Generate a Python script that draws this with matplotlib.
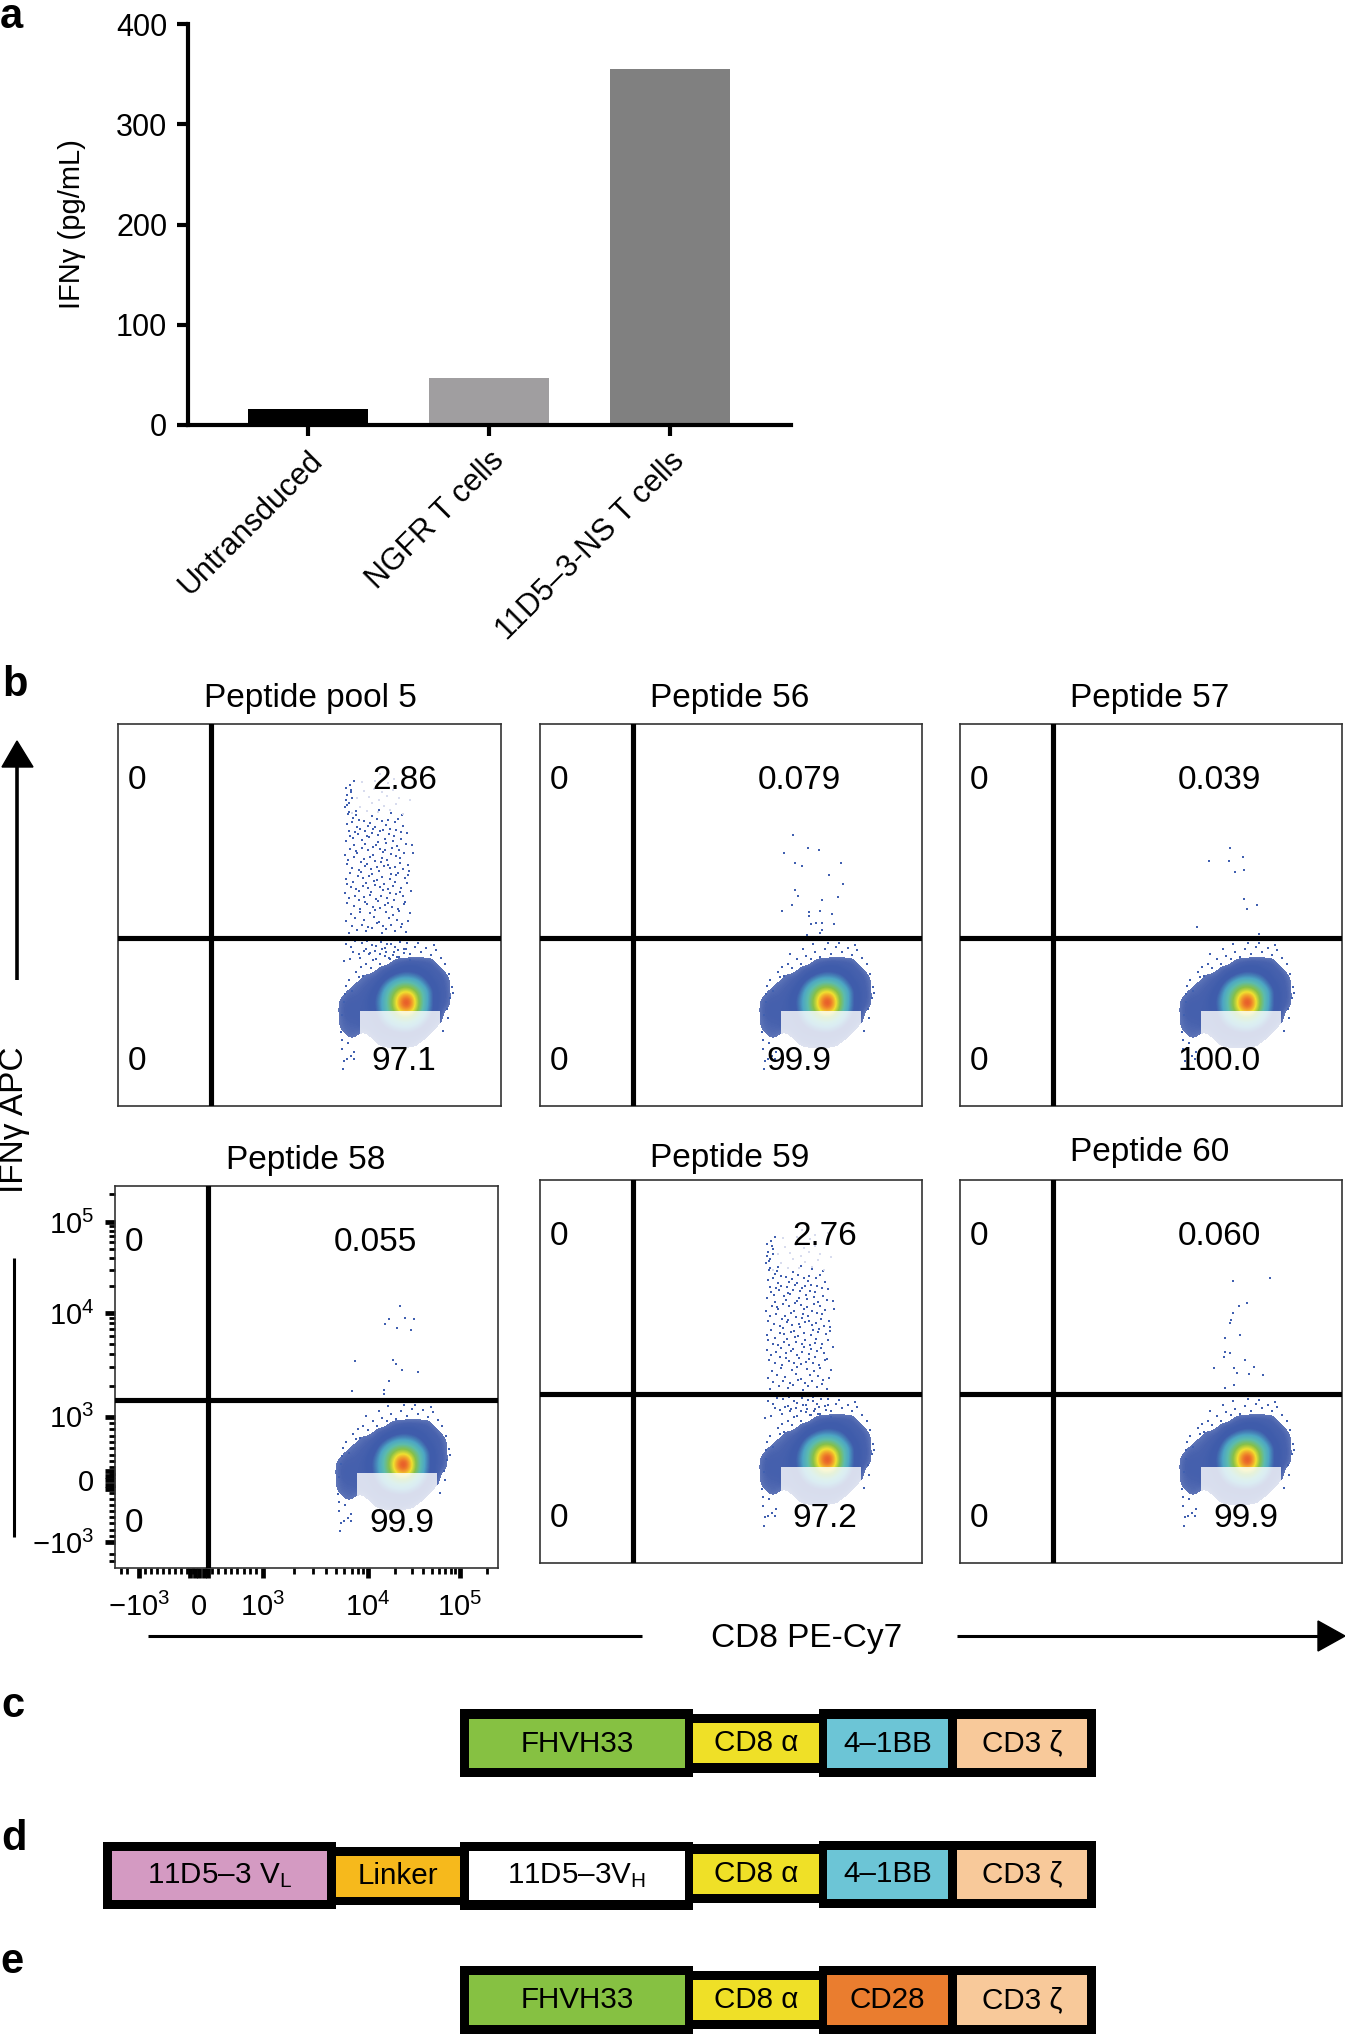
import numpy as np
import matplotlib
matplotlib.use('Agg')
import matplotlib.pyplot as plt
from matplotlib.colors import LinearSegmentedColormap
from matplotlib.patches import Rectangle, Polygon

plt.rcParams['font.family'] = ['Liberation Sans', 'DejaVu Sans']
plt.rcParams['mathtext.fontset'] = 'custom'
plt.rcParams['mathtext.rm'] = 'Liberation Sans'
plt.rcParams['mathtext.it'] = 'Liberation Sans'
plt.rcParams['mathtext.bf'] = 'Liberation Sans:bold'
plt.rcParams['mathtext.default'] = 'regular'

W, H = 1345, 2034

# panel a
BAR_NAMES = ['Untransduced', 'NGFR T cells', '11D5\u20133-NS T cells']
BAR_VALUES = [16, 47, 355]
BAR_COLORS = ['#000000', '#a09ea0', '#808080']

# panel b, percentages shown in the quadrants
TITLES = ['Peptide pool 5', 'Peptide 56', 'Peptide 57', 'Peptide 58', 'Peptide 59', 'Peptide 60']
UPPER_RIGHT = ['2.86', '0.079', '0.039', '0.055', '2.76', '0.060']
LOWER_RIGHT = ['97.1', '99.9', '100.0', '99.9', '97.2', '99.9']

# cell density (colour level), x 56..90, y 42..12, in percent of the plot
DENS_X = [56, 58, 60, 62, 64, 66, 68, 70, 72, 74, 76, 78, 80, 82, 84, 86, 88, 90]
DENS_Y = [42, 40, 38, 36, 34, 32, 30, 28, 26, 24, 22, 20, 18, 16, 14, 12]
DENSITY = [
    [0, 0, 0, 0, 0, 0, 0, 0, 0, 0, 0, 0, 0, 0, 0, 0, 0, 0],
    [0, 0, 0, 0, 0, 0, 0, 0, 0, 0, 0, 0, 0, 0, 0, 0, 0, 0],
    [0, 0, 0, 0, 0, 0, 0, 0, .7, .8, .9, .9, .9, .8, 0, 0, 0, 0],
    [0, 0, 0, 0, 0, 0, .7, .9, 1, 1.2, 1.3, 1.2, 1, 1, .8, 0, 0, 0],
    [0, 0, 0, 0, .7, .8, .9, 1.2, 1.6, 2, 2, 1.8, 1.4, 1, 1, .7, 0, 0],
    [0, 0, 0, .7, .8, .9, 1.2, 2, 3, 3.5, 3.5, 3, 2, 1.2, 1, .8, 0, 0],
    [0, 0, .8, .8, .9, 1.1, 1.6, 3, 4, 5, 5, 4, 3, 1.6, 1, .9, 0, 0],
    [0, .7, .9, .9, 1, 1.2, 2, 3.2, 4.6, 6.5, 6.8, 4.6, 3, 1.6, 1, .9, 0, 0],
    [0, .8, 1, 1, 1, 1.2, 2, 3.2, 4.6, 6.5, 6.8, 4.6, 3, 1.6, 1, .8, 0, 0],
    [0, .8, 1, 1, 1, 1.1, 1.8, 3, 4, 5, 5, 4, 2.6, 1.4, 1, 0, 0, 0],
    [0, .7, .9, .9, 1, 1, 1.4, 2.2, 3, 3.4, 3.4, 2.8, 1.8, 1.1, .8, 0, 0, 0],
    [0, .7, .8, .8, .9, 1, 1.1, 1.4, 1.8, 2, 2, 1.6, 1.2, .9, 0, 0, 0, 0],
    [0, 0, .7, .7, 0, .7, 1, 1, 1, 1.1, 1.1, 1, .9, 0, 0, 0, 0, 0],
    [0, 0, 0, 0, 0, 0, .7, .9, 1, 1, .9, .7, 0, 0, 0, 0, 0, 0],
    [0, 0, 0, 0, 0, 0, 0, 0, 0, 0, 0, 0, 0, 0, 0, 0, 0, 0],
    [0, 0, 0, 0, 0, 0, 0, 0, 0, 0, 0, 0, 0, 0, 0, 0, 0, 0],
]

# single cells above the gate
SPARSE_X = {
    1: [66.2, 63.9, 70.2, 73.0, 66.7, 68.6, 78.9, 75.7, 79.2, 66.7, 67.5, 73.7, 78.0, 65.9, 63.4, 70.5, 70.5, 73.3, 76.4, 70.9, 72.3, 73.7, 76.9, 73.7, 73.3, 69.8],
    2: [70.8, 74.2, 65.2, 70.4, 72.0, 74.3, 74.3, 77.8, 75.1, 62.1, 78.3],
    3: [74.4, 71.6, 70.5, 75.6, 78.0, 73.6, 77.2, 62.7, 72.5, 73.3, 74.9, 79.1, 71.6, 61.9, 70.2, 70.2],
    5: [71.4, 81.2, 75.0, 73.0, 71.4, 70.9, 70.6, 69.4, 73.4, 69.4, 70.6, 69.0, 74.5, 66.6, 71.7, 76.9, 72.5, 75.7, 79.2, 71.7, 69.4],
}
SPARSE_Y = {
    1: [71.0, 66.3, 67.5, 67.1, 63.6, 62.8, 63.6, 60.5, 58.1, 56.5, 55.0, 53.8, 54.6, 52.6, 51.0, 50.7, 49.8, 51.0, 50.3, 47.6, 47.9, 47.9, 47.6, 46.0, 45.2, 44.8],
    2: [67.5, 65.3, 64.1, 64.1, 61.3, 61.8, 54.2, 52.6, 51.6, 46.9, 44.9],
    3: [68.6, 65.2, 63.9, 65.5, 65.2, 62.8, 62.4, 54.2, 54.5, 53.4, 51.8, 51.4, 49.0, 46.3, 46.7, 45.5],
    5: [73.6, 74.3, 67.8, 67.0, 65.4, 63.5, 62.7, 58.8, 59.6, 55.2, 54.9, 53.8, 52.9, 51.0, 51.0, 51.3, 49.7, 49.4, 49.0, 46.6, 45.8],
}

# responding cells in pool 5 and peptide 59
TAIL_X = [
    60.2, 62.5, 64.8, 66.3, 68.9, 70.1, 72.4, 73.8, 75.2, 61.1, 63.7, 65.4, 67.6, 69.3, 71.2, 74.1,
    59.6, 62.0, 64.1, 66.9, 68.2, 70.8, 72.9, 75.7, 60.8, 63.1, 65.9, 67.2, 69.9, 71.7, 73.3, 76.3,
    61.5, 63.3, 65.1, 66.6, 68.4, 69.7, 71.5, 73.1, 74.7, 59.9, 62.8, 64.5, 67.9, 70.4, 72.1, 75.0,
    60.4, 61.9, 64.3, 65.7, 67.3, 68.7, 70.3, 72.6, 74.4, 59.3, 63.0, 66.1, 69.1, 71.0, 73.5, 76.6,
    60.9, 62.2, 63.9, 65.3, 67.0, 68.5, 70.6, 71.9, 73.9, 59.8, 61.4, 64.7, 66.8, 69.5, 72.3, 75.4,
    59.5, 62.7, 64.0, 65.6, 67.5, 69.0, 70.9, 72.7, 74.9, 60.6, 63.5, 66.4, 68.1, 71.4, 73.0, 76.0,
    61.2, 62.9, 64.6, 66.0, 67.7, 69.4, 71.1, 72.2, 74.3, 59.7, 63.4, 65.0, 68.6, 70.5, 73.6, 75.6,
    60.1, 61.7, 64.2, 65.8, 67.1, 68.8, 70.2, 72.5, 73.7, 59.2, 62.4, 66.5, 69.2, 71.3, 74.6, 77.0,
    60.7, 62.1, 63.6, 65.2, 66.7, 68.3, 69.8, 71.6, 73.4, 61.6, 64.4, 67.4, 70.0, 72.8, 75.1, 76.8,
    59.4, 61.3, 63.8, 65.5, 67.8, 69.6, 71.8, 74.0, 60.5, 62.6, 64.9, 66.2, 68.0, 70.7, 72.0, 75.5,
    60.3, 61.8, 63.2, 64.6, 66.7, 68.5, 69.3, 71.0, 72.6, 73.8, 62.3, 65.3, 67.2, 70.1, 74.5, 59.8,
    61.0, 63.0, 64.3, 65.9, 67.6, 69.0, 70.4, 72.3, 73.2, 60.0, 62.2, 66.3, 68.2, 71.2, 74.2, 75.8,
    59.6, 62.0, 63.7, 65.1, 66.4, 68.7, 70.2, 71.5, 73.6, 60.9, 64.8, 67.3, 69.7, 72.4, 75.3, 58.9,
    61.4, 62.8, 64.1, 65.7, 67.0, 68.4, 69.9, 71.7, 73.0, 74.8, 60.6, 63.3, 66.6, 70.8, 72.9, 76.2,
    59.2, 60.3, 61.1, 59.7, 60.9, 59.4, 60.6, 61.6, 59.9, 60.2, 62.1, 59.5, 60.8, 61.4,
]
TAIL_Y = [
    45.4, 46.1, 45.7, 46.6, 45.2, 46.3, 45.9, 46.8, 45.5, 47.2, 47.5, 46.9, 47.8, 47.1, 47.4, 47.7,
    48.3, 49.1, 48.6, 49.4, 48.1, 49.2, 48.8, 48.4, 50.2, 50.9, 50.4, 51.2, 50.7, 50.1, 51.0, 50.5,
    52.3, 51.7, 52.8, 52.1, 51.9, 52.6, 52.2, 51.6, 52.9, 53.1, 53.8, 53.4, 53.6, 53.2, 53.9, 53.3,
    54.4, 55.1, 54.7, 55.3, 54.2, 55.0, 54.5, 55.4, 54.9, 55.7, 56.2, 55.9, 56.5, 55.8, 56.1, 56.4,
    57.2, 56.8, 57.6, 57.0, 57.8, 57.3, 56.9, 57.5, 57.1, 58.2, 58.7, 58.4, 58.9, 58.1, 58.6, 58.3,
    59.4, 60.1, 59.7, 60.3, 59.2, 60.0, 59.5, 60.4, 59.8, 60.9, 61.3, 60.7, 61.5, 60.8, 61.1, 61.6,
    62.3, 61.9, 62.8, 62.1, 62.5, 62.9, 62.2, 62.6, 62.0, 63.3, 63.8, 63.4, 63.9, 63.1, 63.6, 63.2,
    64.4, 65.1, 64.6, 65.3, 64.2, 65.0, 64.5, 65.4, 64.9, 65.8, 66.2, 65.7, 66.4, 65.9, 66.1, 66.3,
    67.2, 66.8, 67.6, 67.0, 67.8, 67.3, 66.9, 67.5, 67.1, 68.2, 68.7, 68.4, 68.9, 68.1, 68.6, 68.3,
    69.3, 70.1, 69.6, 70.3, 69.1, 70.0, 69.4, 69.8, 70.8, 71.2, 70.6, 71.4, 70.9, 71.1, 70.7, 71.5,
    72.0, 71.8, 72.4, 72.1, 72.6, 71.9, 72.3, 72.5, 72.2, 71.7, 73.1, 73.4, 73.0, 73.6, 73.3, 73.8,
    74.4, 75.0, 74.7, 74.2, 75.2, 74.5, 74.9, 74.3, 75.1, 76.4, 77.2, 76.0, 77.6, 76.8, 76.2, 60.5,
    42.4, 43.1, 42.8, 43.3, 42.2, 43.0, 42.5, 43.4, 42.9, 41.6, 41.1, 41.8, 41.3, 41.5, 41.2, 37.9,
    40.4, 39.9, 40.7, 40.1, 40.6, 39.7, 40.3, 39.6, 40.8, 40.0, 38.4, 38.8, 38.2, 38.7, 38.9, 38.1,
    78.2, 79.4, 80.6, 81.3, 82.1, 83.2, 84.0, 85.1, 78.9, 77.0, 76.2, 80.1, 82.7, 75.4,
]
PALE_X = [61.0, 63.2, 64.9, 66.3, 67.8, 69.4, 71.1, 72.7, 74.3, 76.2, 62.4, 65.5, 68.2, 70.3, 73.4, 64.1, 66.9, 69.0, 71.9, 74.8, 63.7, 67.2, 70.6, 72.1, 75.4, 68.5]
PALE_Y = [76.6, 78.2, 77.1, 79.3, 76.9, 78.5, 77.4, 79.0, 76.4, 80.0, 80.6, 80.9, 80.2, 81.1, 80.7, 82.4, 83.0, 82.2, 82.8, 83.3, 84.8, 85.2, 84.6, 85.6, 86.2, 87.0]

# cells at the rim of the main population
EDGE_X = [58.2, 58.6, 59.1, 58.4, 59.5, 58.9, 60.3, 61.1, 60.0, 62.2, 61.7, 63.4, 62.9, 58.7, 59.8, 60.8, 59.2, 58.5, 61.5, 63.9, 64.8, 66.0, 67.3, 68.4, 69.6, 70.9, 72.1, 73.4, 74.7, 76.2, 77.6, 79.0, 80.5, 81.8, 83.1, 84.4, 85.5, 86.3, 87.1, 86.8, 85.9, 87.5, 86.1, 84.9, 65.5, 68.8, 71.4, 75.5, 78.3, 82.5]
EDGE_Y = [19.4, 23.7, 27.2, 14.8, 31.5, 11.9, 33.1, 30.2, 16.6, 35.2, 14.1, 36.3, 33.8, 9.7, 12.4, 13.0, 29.4, 17.2, 12.2, 34.1, 37.2, 36.0, 38.4, 37.1, 39.3, 38.6, 40.2, 39.0, 41.0, 39.8, 41.6, 40.4, 41.3, 39.6, 40.8, 38.7, 37.2, 34.6, 31.2, 28.4, 25.5, 29.6, 23.1, 19.7, 39.8, 41.2, 42.3, 42.8, 42.6, 42.1]

# axis marks on peptide 58, in percent of the plot
XTICK_POS = [6.3, 22.0, 38.6, 66.0, 90.0]
YTICK_POS = [6.8, 23.0, 39.6, 66.7, 90.6]
TICK_LABELS = ['$-10^3$', '0', '$10^3$', '$10^4$', '$10^5$']

# chimeric receptor blocks (label, colour)
ROW_C = [('FHVH33', '#86c142'), ('CD8 \u03b1', '#efe027'), ('4\u20131BB', '#6cc5d6'), ('CD3 \u03b6', '#f8c99a')]
ROW_D = [('11D5\u20133 V$_{L}$', '#d49ac2'), ('Linker', '#f6b91c'), ('11D5\u20133V$_{H}$', '#ffffff'),
         ('CD8 \u03b1', '#efe027'), ('4\u20131BB', '#6cc5d6'), ('CD3 \u03b6', '#f8c99a')]
ROW_E = [('FHVH33', '#86c142'), ('CD8 \u03b1', '#efe027'), ('CD28', '#ea7d2f'), ('CD3 \u03b6', '#f8c99a')]


def ax_px(fig, left, top, right, bottom):
    return fig.add_axes([left / W, 1 - bottom / H, (right - left) / W, (bottom - top) / H])


def minor_positions(major):
    """Log spaced marks between decades, linear ones around zero."""
    neg, zero, e3, e4, e5 = major
    out = []
    for m in range(1, 10):
        out.append(zero + (neg - zero) * m / 10)
        out.append(zero + (e3 - zero) * m / 10)
    for m in range(2, 10):
        out.append(e3 + (e4 - e3) * np.log10(m))
        out.append(e4 + (e5 - e4) * np.log10(m))
    for m in range(2, 4):
        out.append(e5 + (e5 - e4) * np.log10(m))
    for m in range(2, 4):
        out.append(neg - (zero - neg) * 0.1 * m)
    return [p for p in out if 0 < p < 100]


def with_zero_block(major):
    # the marks next to 0 merge into a solid block
    zero = major[1]
    extra = [zero - 2.4, zero - 1.2, zero + 1.2, zero + 2.4]
    return list(major) + extra, TICK_LABELS + [''] * 4


fig = plt.figure(figsize=(W / 100, H / 100), dpi=100)

# ---- panel a
ax = ax_px(fig, 188, 24, 791, 425)
ax.bar(range(3), BAR_VALUES, width=0.664, color=BAR_COLORS)
ax.set_xlim(-0.664, 2.672)
ax.set_ylim(0, 400)
ax.set_yticks([0, 100, 200, 300, 400])
ax.set_xticks(range(3))
ax.set_xticklabels(BAR_NAMES, rotation=45, ha='right', va='top', rotation_mode='anchor', fontsize=20.8)
ax.tick_params(axis='both', width=3, length=8, labelsize=22, pad=7)
ax.tick_params(axis='x', pad=7)
ax.set_ylabel('IFN\u03b3 (pg/mL)', fontsize=21)
ax.yaxis.set_label_coords((86 - 188) / 603, 0.5)
for s in ['top', 'right']:
    ax.spines[s].set_visible(False)
for s in ['left', 'bottom']:
    ax.spines[s].set_linewidth(3)

# ---- panel b
cmap = LinearSegmentedColormap.from_list('flow', [
    (0.0, '#6076b8'), (0.05, '#4862ae'), (0.10, '#3f5cab'), (0.16, '#3f5cab'), (0.30, '#4da6c4'), (0.42, '#5cbcae'),
    (0.57, '#86c04a'), (0.72, '#f0e030'), (0.85, '#f0902a'), (1.0, '#e0302a')])
cmap.set_under((1, 1, 1, 0))

BOXES = [(118, 724, 501, 1106), (540, 724, 922, 1106), (960, 724, 1342, 1106),
         (115, 1186, 498, 1568), (540, 1180, 922, 1563), (960, 1180, 1342, 1563)]
UR_X = [74.9, 67.8, 67.8, 67.9, 74.6, 67.8]
LR_X = [74.6, 67.8, 67.8, 74.9, 74.6, 74.9]

for i, box in enumerate(BOXES):
    ax = ax_px(fig, *box)
    ax.imshow(DENSITY, extent=[DENS_X[0] - 1, DENS_X[-1] + 1, DENS_Y[-1] - 1, DENS_Y[0] + 1],
              origin='upper', interpolation='bicubic', cmap=cmap, vmin=0.55, vmax=7, aspect='auto', zorder=1)
    ax.set_xlim(0, 100)
    ax.set_ylim(0, 100)
    ax.scatter(EDGE_X, EDGE_Y, s=3.5, marker='s', color='#4060b0', linewidths=0, zorder=2)
    if i in (0, 4):
        ax.scatter(TAIL_X, TAIL_Y, s=3.6, marker='s', color='#4060b0', linewidths=0, zorder=2)
        ax.scatter(PALE_X, PALE_Y, s=4, marker='s', color='#d8dcee', linewidths=0, zorder=2)
    else:
        ax.scatter(SPARSE_X[i], SPARSE_Y[i], s=3.5, marker='s', color='#4060b0', linewidths=0, zorder=2)
    ax.add_patch(Rectangle((63.2, 10), 20.8, 15, facecolor='white', alpha=0.8, edgecolor='none', zorder=3))
    ax.axvline(24.4, color='black', lw=3.7, zorder=4)
    ax.axhline(44, color='black', lw=3.7, zorder=4)
    ax.text(5, 85.2, '0', fontsize=24, ha='center', va='center', zorder=5)
    ax.text(5, 11.7, '0', fontsize=24, ha='center', va='center', zorder=5)
    ax.text(UR_X[i], 85.2, UPPER_RIGHT[i], fontsize=24, ha='center', va='center', zorder=5)
    ax.text(LR_X[i], 11.7, LOWER_RIGHT[i], fontsize=24, ha='center', va='center', zorder=5)
    for s in ax.spines.values():
        s.set_linewidth(1.2)
        s.set_color('#333333')
    if i == 3:
        xpos, xlabs = with_zero_block(XTICK_POS)
        ypos, ylabs = with_zero_block(YTICK_POS)
        ax.set_xticks(xpos)
        ax.set_yticks(ypos)
        ax.set_xticklabels(xlabs, fontsize=21)
        ax.set_yticklabels(ylabs, fontsize=21)
        ax.set_xticks(minor_positions(XTICK_POS), minor=True)
        ax.set_yticks(minor_positions(YTICK_POS), minor=True)
        ax.tick_params(axis='both', which='major', width=3.4, length=7, pad=8)
        ax.tick_params(axis='x', which='major', pad=11)
        ax.tick_params(axis='both', which='minor', width=2, length=4)
    else:
        ax.set_xticks([])
        ax.set_yticks([])

# ---- everything else sits on a page axes in pixels
page = fig.add_axes([0, 0, 1, 1], zorder=10)
page.set_xlim(0, W)
page.set_ylim(H, 0)
page.axis('off')
page.patch.set_alpha(0)

for lab, x, y in [('a', 0, 28), ('b', 2, 696), ('c', 1, 1717), ('d', 1, 1850), ('e', 0, 1973)]:
    page.text(x, y, lab, fontsize=30, fontweight='bold', ha='left', va='baseline')

TITLE_POS = [(310, 698), (730, 698), (1150, 698), (306, 1160), (730, 1159), (1150, 1152)]
for t, (x, y) in zip(TITLES, TITLE_POS):
    page.text(x, y, t, fontsize=24, ha='center', va='center')

# gate axis arrows
page.plot([17, 17], [760, 980], color='black', lw=2.6, solid_capstyle='butt')
page.add_patch(Polygon([(17, 741), (2, 767), (33, 767)], closed=True, color='black'))
page.plot([14, 14], [1258, 1537], color='black', lw=2.2, solid_capstyle='butt')
page.text(15, 1120, 'IFN\u03b3 APC', fontsize=24, rotation=90, ha='center', va='center')
page.plot([148, 642], [1636, 1636], color='black', lw=2.2, solid_capstyle='butt')
page.plot([957, 1325], [1636, 1636], color='black', lw=2.2, solid_capstyle='butt')
page.add_patch(Polygon([(1345, 1636), (1318, 1621), (1318, 1651)], closed=True, color='black'))
page.text(807, 1638, 'CD8 PE-Cy7', fontsize=24, ha='center', va='center')


def draw_block(label, color, xo0, xo1, yo0, yo1, xi0, xi1, yi0, yi1):
    page.add_patch(Rectangle((xo0, yo0), xo1 - xo0, yo1 - yo0, facecolor='black', edgecolor='none', clip_on=False))
    page.add_patch(Rectangle((xi0, yi0), xi1 - xi0, yi1 - yi0, facecolor=color, edgecolor='none'))
    page.text((xi0 + xi1) / 2, (yi0 + yi1) / 2, label, fontsize=21.3, ha='center', va='center')


def draw_row(blocks, y_big, y_small):
    oy0, oy1, iy0, iy1 = y_big
    soy0, soy1, siy0, siy1 = y_small
    draw_block(blocks[0][0], blocks[0][1], 460, 693, oy0, oy1, 469, 685, iy0, iy1)
    draw_block(blocks[1][0], blocks[1][1], 693, 819, soy0, soy1, 693, 819, siy0, siy1)
    draw_block(blocks[2][0], blocks[2][1], 819, 953, oy0, oy1, 827, 948, iy0, iy1)
    draw_block(blocks[3][0], blocks[3][1], 953, 1096, oy0, oy1, 957, 1087, iy0, iy1)


draw_row(ROW_C, (1709, 1777, 1719, 1768), (1714, 1773, 1723, 1763))
draw_row(ROW_E, (1966, 2034, 1975, 2025), (1971, 2029, 1980, 2020))
draw_block(ROW_D[0][0], ROW_D[0][1], 103, 336, 1842, 1909, 112, 327, 1851, 1900)
draw_block(ROW_D[1][0], ROW_D[1][1], 336, 460, 1847, 1905, 336, 460, 1856, 1897)
draw_block(ROW_D[2][0], ROW_D[2][1], 460, 693, 1842, 1910, 469, 685, 1851, 1900)
draw_block(ROW_D[3][0], ROW_D[3][1], 693, 819, 1844, 1903, 693, 819, 1854, 1894)
draw_block(ROW_D[4][0], ROW_D[4][1], 819, 953, 1841, 1908, 827, 948, 1850, 1899)
draw_block(ROW_D[5][0], ROW_D[5][1], 953, 1096, 1841, 1908, 957, 1087, 1850, 1899)

fig.savefig('out.png', dpi=100, facecolor='white')
